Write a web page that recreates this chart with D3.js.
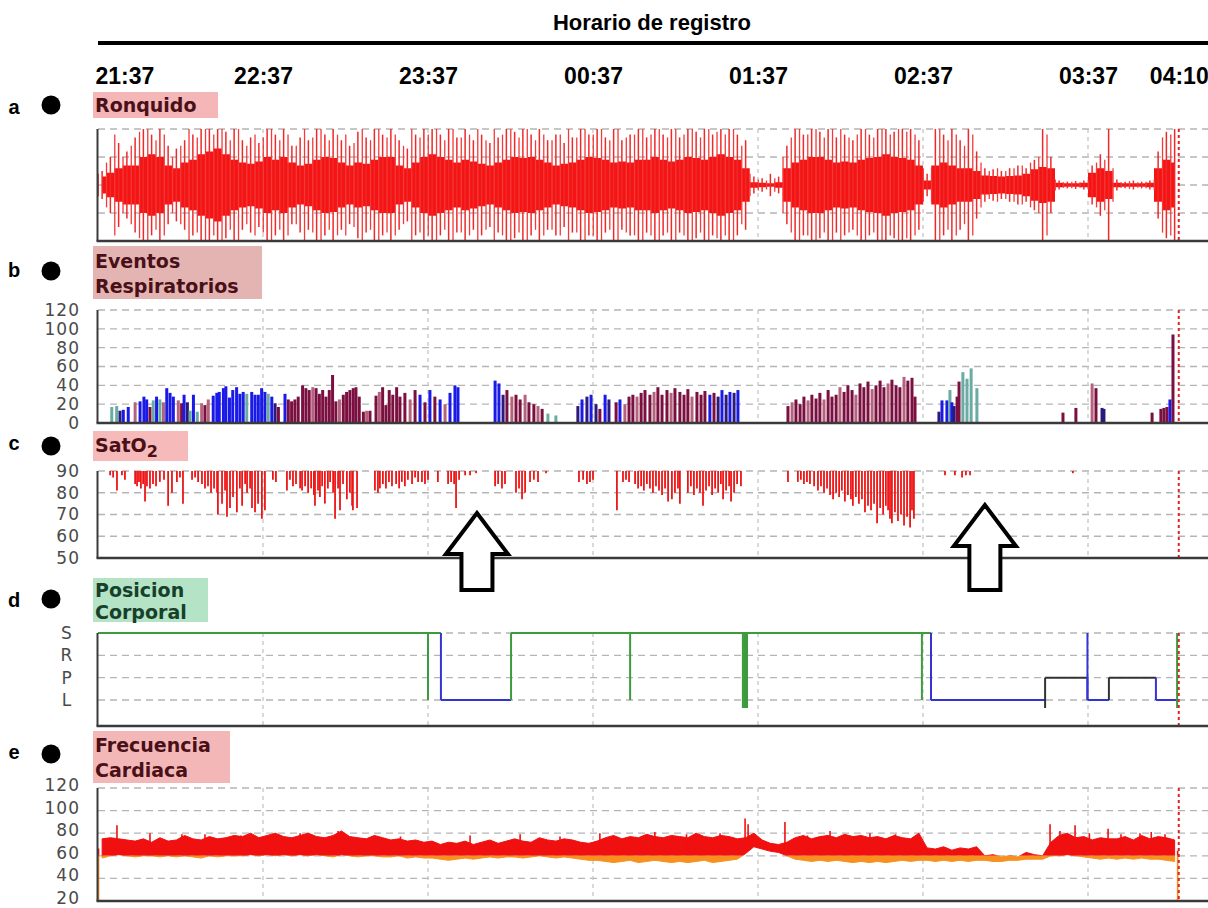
<!DOCTYPE html>
<html><head><meta charset="utf-8">
<script src="https://cdn.jsdelivr.net/npm/d3@7"></script>
<style>body{margin:0;background:#fff}svg{display:block}</style>
</head><body>
<svg width="1208" height="908"></svg>
<script>
// ---------------- DATA ----------------
const titleText = "Horario de registro";
const timeTicks = [0, 60, 120, 180, 240, 300, 360, 393];          // minutes since 21:37
const timeLabels = ["21:37","22:37","23:37","00:37","01:37","02:37","03:37","04:10"];
const gridTimes = [60, 120, 180, 240, 300, 360];
const endTime = 393;

// a) snoring envelope, 3-minute bins (relative amplitude)
const snoreCore = [0.15,0.22,0.3,0.35,0.35,0.5,0.55,0.5,0.35,0.3,
0.4,0.45,0.55,0.6,0.65,0.55,0.45,0.4,0.38,0.42,
0.5,0.45,0.5,0.4,0.35,0.38,0.45,0.5,0.48,0.4,
0.35,0.4,0.38,0.45,0.5,0.5,0.35,0.3,0.4,0.5,
0.55,0.5,0.45,0.4,0.45,0.42,0.38,0.35,0.4,0.45,
0.5,0.48,0.5,0.45,0.4,0.35,0.38,0.4,0.45,0.5,
0.48,0.45,0.4,0.42,0.4,0.45,0.45,0.5,0.45,0.42,
0.45,0.5,0.48,0.45,0.5,0.55,0.5,0.45,0.3,0.05,
0.04,0.03,0.05,0.3,0.4,0.45,0.5,0.5,0.45,0.4,
0.42,0.4,0.45,0.48,0.5,0.55,0.5,0.48,0.45,0.35,
0.08,0.35,0.4,0.35,0.3,0.3,0.25,0.17,0.16,0.15,
0.16,0.17,0.2,0.28,0.32,0.3,0.04,0.03,0.03,0.04,
0.22,0.3,0.25,0.04,0.03,0.03,0.03,0.04,0.3,0.45,
0.4];
// peak amplitude at each bin centre
const snorePeak = [0.25,0.5,0.75,0.6,0.85,1,0.9,1,0.7,0.65,
0.8,0.9,1,1,1,0.95,1,0.8,0.85,0.75,
1,0.9,1,0.7,0.85,0.8,1,0.9,1,0.8,
0.7,0.95,0.85,1,0.9,1,0.8,0.65,0.9,1,
1,0.9,1,0.85,1,0.8,0.9,0.75,0.85,1,
0.95,1,0.9,1,0.8,0.9,0.75,0.85,1,0.9,
1,0.85,1,0.8,0.9,1,0.85,1,0.9,1,
0.85,1,0.95,1,0.9,1,1,0.9,0.8,0.15,
0.12,0.2,0.15,0.7,1,0.9,1,0.95,1,0.85,
0.9,0.8,1,0.9,1,1,0.95,1,1,0.8,
0.2,1,0.9,1,0.8,1,0.6,0.3,0.28,0.25,
0.3,0.35,0.3,0.45,1,0.5,0.08,0.06,0.07,0.08,
0.35,0.55,1,0.1,0.06,0.08,0.06,0.08,0.6,0.95,
1];
// peak amplitude at each bin start
const snorePeak2 = [0.2,0.4,0.9,0.5,0.7,0.95,1,0.8,0.9,0.5,
0.7,1,0.85,1,0.9,1,0.8,1,0.7,0.9,
0.85,1,0.8,0.9,0.7,1,0.85,1,0.8,0.9,
0.9,0.75,1,0.8,1,0.85,0.9,0.7,1,0.85,
0.9,1,0.8,1,0.85,0.9,1,0.8,1,0.9,
1,0.85,1,0.8,0.9,0.8,0.9,1,0.85,1,
0.9,1,0.8,1,0.85,0.9,1,0.9,1,0.85,
1,0.9,1,0.85,1,0.95,0.9,1,0.7,0.2,
0.1,0.08,0.12,0.5,0.85,1,0.9,1,0.85,1,
1,0.85,0.9,1,0.85,1,0.9,1,0.95,0.9,
0.3,0.3,1,0.8,0.9,0.7,0.9,0.4,0.25,0.3,
0.25,0.3,0.35,0.4,0.5,0.9,0.1,0.05,0.06,0.05,
0.08,0.4,0.45,0.3,0.05,0.07,0.05,0.06,0.1,0.85,
0.9];

// b) respiratory events: time (min), height, type
const evTime = [5.0,6.8,8.0,9.2,11.0,13.5,15.3,16.7,17.7,18.9,20.1,21.3,22.5,23.8,25.0,26.2,27.4,29.2,30.4,31.3,32.5,33.5,34.7,36.1,37.7,38.9,40.1,41.9,43.2,44.1,45.6,46.5,47.8,49.0,50.4,51.6,52.8,54.1,55.9,57.1,58.3,59.5,60.7,61.9,63.2,64.4,65.6,68.0,69.2,70.4,71.6,72.8,74.4,75.6,76.8,78.1,79.3,80.5,81.7,82.9,84.1,85.3,86.5,87.8,89.2,90.4,91.6,92.8,93.8,95.0,96.5,97.7,98.9,101.1,102.3,103.5,104.7,105.9,107.2,108.6,
109.8,111.6,113.5,115.3,117.1,118.9,120.7,122.5,124.4,126.2,128.0,129.8,130.9,
144.4,145.8,147.3,148.7,150.5,152.0,153.5,155.3,156.7,158.5,160.0,161.5,163.6,166.5,
174.5,176.0,177.8,179.3,181.1,182.5,184.4,185.8,188.4,189.8,191.6,193.1,
194.5,196.0,197.5,198.9,200.7,202.2,203.6,205.1,206.9,208.4,209.8,211.6,213.1,214.5,216.0,217.8,219.3,220.7,
222.5,224.0,225.5,226.9,228.4,229.8,231.3,232.7,
250.9,252.4,253.8,255.3,256.7,258.2,259.6,261.1,262.5,264.0,265.5,266.9,268.4,269.8,271.3,272.7,274.2,275.6,277.1,278.5,280.0,281.5,282.9,284.4,285.8,287.3,288.7,290.2,291.6,293.1,294.5,296.0,297.1,
305.8,306.9,308.7,309.8,310.5,311.3,312.4,313.1,314.5,316.0,317.5,319.6,
350.9,355.6,361.5,362.9,365.1,365.8,383.3,386.5,387.6,388.7,389.8,390.9];
const evHeight = [17,18,13,14,17,22,23,28,25,17,24,28,25,22,37,32,28,24,21,30,22,13,30,12,21,19,25,29,32,33,37,39,27,35,38,31,33,31,33,30,30,37,33,31,28,21,17,31,25,23,25,28,40,37,35,38,37,31,35,28,35,51,23,25,30,33,35,37,38,28,12,13,13,29,33,38,19,35,30,38,
28,32,25,35,30,22,35,28,25,20,32,40,38,
45,42,30,35,28,30,25,30,22,20,18,15,10,8,
18,25,28,30,20,15,30,25,22,25,20,28,
30,28,32,35,30,33,38,30,35,32,37,33,30,36,28,33,30,34,
30,32,28,35,30,33,32,35,
18,22,25,20,28,24,30,26,32,25,35,28,30,38,33,40,35,30,42,38,44,36,40,45,38,42,46,40,38,49,45,48,28,
12,24,24,35,22,18,28,44,54,47,58,37,
11,16,42,37,16,15,11,15,16,17,25,94];
const evType = ["T","T","P","B","B","K","B","B","B","M","T","B","T","K","B","B","B","K","M","B","P","T","B","T","K","M","K","B","B","B","B","B","B","B","B","B","B","T","B","B","B","B","B","T","B","P","M","B","M","M","M","M","M","M","M","K","M","M","M","M","M","M","M","K","M","M","M","M","M","M","M","K","M","M","K","M","M","M","M","M",
"M","M","K","M","B","M","B","M","B","K","B","B","B",
"B","B","P","M","K","M","M","K","M","M","K","M","T","T",
"P","B","P","B","P","M","B","P","M","B","K","M",
"M","K","M","M","M","K","M","M","M","K","M","M","M","M","K","M","M","M",
"B","M","P","B","P","B","P","B",
"M","K","M","M","M","K","M","M","M","K","M","M","M","K","M","M","M","K","M","M","M","K","M","M","M","K","M","M","M","K","M","M","M",
"P","B","B","T","B","P","M","M","T","T","T","T",
"M","M","K","M","P","P","M","M","M","M","B","M"];
const evTicks = [0,20,40,60,80,100,120];

// c) SatO2 desaturation minima: time (min), minimum value (%)
const satTime = [4.4,5.5,6.9,8.7,9.8,
13.5,14.2,14.9,15.6,16.4,17.1,17.8,18.9,20.0,21.1,22.5,24.0,25.5,26.9,28.7,29.8,30.9,
34.2,35.3,36.4,37.8,38.9,40.0,41.1,42.2,43.3,43.6,45.1,46.2,46.9,48.0,49.1,50.5,51.6,52.4,53.5,54.2,55.3,56.0,57.1,58.2,59.6,60.7,
63.6,64.7,
68.7,69.8,70.9,72.0,73.5,74.2,75.3,76.4,77.5,78.5,78.9,80.0,80.7,81.5,82.5,83.6,84.4,85.5,86.2,87.3,88.0,89.1,90.5,91.6,92.4,92.7,94.2,
100.7,101.8,102.5,103.6,104.7,105.8,106.9,108.4,109.5,
110.5,111.6,112.7,114.2,115.3,116.4,117.8,118.9,120.0,
123.6,127.3,128.4,129.5,130.2,131.3,
133.5,135.3,137.5,
144.4,145.5,146.9,148.0,
152.0,153.1,154.2,155.3,157.1,158.5,160.0,162.9,
174.9,176.4,177.8,178.9,180.0,
188.7,190.9,192.0,193.1,
195.3,196.4,197.5,198.5,199.6,200.7,201.8,202.9,204.0,205.1,206.2,207.3,208.7,209.8,210.9,211.6,
214.5,215.6,216.7,217.8,218.9,220.0,221.1,222.2,223.3,224.4,225.5,226.5,227.3,228.4,229.5,230.2,231.3,232.4,233.8,
250.9,
254.5,255.6,256.7,257.8,258.9,260.4,261.8,262.9,264.0,265.1,266.2,267.3,268.4,269.5,270.5,271.6,272.7,273.8,274.5,275.6,276.7,277.8,278.9,280.0,281.1,282.2,283.3,284.4,285.5,286.5,287.3,288.0,288.7,289.8,290.9,292.0,293.1,294.2,295.3,296.0,296.7,
308.0,311.6,314.2,315.6,317.1,
354.5];
const satMin = [88,87,81,88,86,
84,83,85,82,84,76,83,82,84,83,85,86,74,80,85,87,75,
86,87,85,84,82,83,80,82,80,70,75,81,69,73,78,71,82,74,84,80,82,73,71,75,68,72,
86,85,
81,86,83,84,82,81,83,80,82,79,74,81,78,83,75,82,85,80,68,82,72,84,77,80,74,72,73,
81,80,82,84,82,85,83,84,82,
85,83,86,84,87,85,85,84,86,
85,84,85,84,73,86,
88,88,89,
83,84,82,84,
80,82,77,80,85,86,85,89,
85,86,84,85,86,
72,85,86,85,
84,82,83,81,84,82,80,83,81,79,82,76,77,80,82,75,
80,83,79,82,80,74,81,83,79,82,80,84,77,81,83,76,80,84,83,
85,
85,86,84,85,84,83,81,83,80,82,79,77,80,78,81,76,79,77,74,78,75,77,71,74,72,75,66,73,70,74,72,68,66,71,67,70,65,69,64,72,68,
88,88,87,88,88,
89];
const satTicks = [50,60,70,80,90];

// d) body position segments
const posLevels = ["S","R","P","L"];
const posStart = [0, 124.7, 150.2, 302.9, 344.4, 359.8, 367.6, 384.7];
const posEnd   = [124.7, 150.2, 302.9, 344.4, 359.8, 367.6, 384.7, 392.4];
const posState = ["S","L","S","L","P","L","P","L"];
const posStartLong = [false, false, false, false, true, false, false, false];
const posSpikeTime  = [120.0, 193.5, 234.5, 235.0, 235.5, 236.0, 299.6, 359.8, 392.4];
const posSpikeState = ["S","S","S","S","S","S","S","L","S"];
const posSpikeLong  = [false, false, true, true, true, true, false, false, true];

// e) heart rate, 3-minute bins (band high / band low) and isolated peaks
const hrHigh = [75,76,75,74,73,75,72,76,73,74,
78,75,74,77,75,76,78,77,80,76,
78,80,77,76,78,80,77,76,78,82,
77,76,75,78,76,74,75,73,74,72,
73,70,72,71,73,70,72,74,71,73,
75,73,72,76,74,73,75,74,72,71,
73,76,78,75,77,76,79,77,76,78,
77,76,80,77,76,78,77,75,76,80,
74,71,70,72,76,78,75,77,78,76,
79,77,78,76,77,75,78,76,75,80,
67,66,68,65,67,66,68,60,61,59,
60,59,63,61,60,72,78,80,76,77,
74,76,75,75,77,74,78,75,77,76,
74];
const hrLow = [58,60,61,60,59,60,60,59,60,59,
60,59,58,60,59,60,60,60,61,60,
61,60,61,60,61,60,61,60,59,61,
60,59,60,60,59,59,60,58,59,58,
58,57,56,57,58,57,58,59,58,59,
59,58,59,60,59,58,59,58,57,56,
56,55,54,55,56,54,55,56,55,54,
55,54,55,56,54,55,56,57,62,68,
66,64,63,60,57,56,55,56,55,56,
55,54,55,54,55,54,55,56,55,56,
56,55,56,55,56,55,56,56,55,55,
56,56,57,57,57,60,60,61,60,59,
58,57,58,57,58,57,58,57,57,56,
55];
const hrSpikeTime = [0.2,6.9,18.9,30.5,38.9,52.0,73.5,87.3,110.0,135.3,153.5,168.0,182.5,202.5,214.0,226.2,235.3,236.4,249.8,258.0,266.2,280.7,290.0,346.2,349.8,355.3,360.5,367.3,372.0,378.9,383.0,388.0,392.6];
const hrSpikeVal  = [20,87,80,79,79,78,80,82,77,78,79,77,80,81,79,80,93,88,90,78,82,80,79,88,82,87,80,84,79,80,81,79,20];
const hrTicks = [20,40,60,80,100,120];

// annotation arrows (time in minutes)
const arrowTimes = [137.8, 322.5];

// panel labels
const panelLetters = ["a","b","c","d","e"];

// ---------------- DRAWING ----------------
const svg = d3.select("svg");
const XR = 1208;
const x = d3.scaleLinear().domain([0, 393]).range([98, 1178.75]);
const FONT_B = '"Liberation Sans", Arial, sans-serif';
const FONT_V = '"DejaVu Sans", Verdana, sans-serif';

// header
svg.append("text").attr("x", 652).attr("y", 30).attr("text-anchor", "middle")
  .style("font", `bold 22px ${FONT_B}`).text(titleText);
svg.append("line").attr("x1", 98).attr("x2", XR).attr("y1", 43).attr("y2", 43)
  .attr("stroke", "#000").attr("stroke-width", 4);
const gT = svg.append("g").attr("transform", "translate(0,84)")
  .call(d3.axisTop(x).tickValues(timeTicks).tickFormat((d, i) => timeLabels[i]).tickSize(0).tickPadding(0));
gT.select(".domain").remove();
gT.selectAll("text").style("font", `bold 23px ${FONT_B}`).attr("fill", "#000");
gT.selectAll("text").filter((d, i) => i === 0).attr("text-anchor", "start").attr("x", -3);

// helpers
function grid(top, bottom, ys) {
  const g = svg.append("g");
  ys.forEach(y => g.append("line").attr("x1", 98).attr("x2", XR).attr("y1", y).attr("y2", y)
    .attr("stroke", "#b5b5b5").attr("stroke-width", 1.3).attr("stroke-dasharray", "7,5"));
  gridTimes.forEach(t => g.append("line").attr("x1", x(t)).attr("x2", x(t)).attr("y1", top).attr("y2", bottom)
    .attr("stroke", "#c6c6c6").attr("stroke-width", 1.3).attr("stroke-dasharray", "4,4"));
}
function frame(top, bottom) {
  svg.append("line").attr("x1", x(endTime)).attr("x2", x(endTime)).attr("y1", top).attr("y2", bottom)
    .attr("stroke", "#e42020").attr("stroke-width", 2).attr("stroke-dasharray", "3,3");
  svg.append("line").attr("x1", 97.5).attr("x2", 97.5).attr("y1", top).attr("y2", bottom)
    .attr("stroke", "#3a3a3a").attr("stroke-width", 2);
  svg.append("line").attr("x1", 96.5).attr("x2", XR).attr("y1", bottom).attr("y2", bottom)
    .attr("stroke", "#3a3a3a").attr("stroke-width", 2.6);
}
function yAxis(scale, ticks, xPos, anchor, dy) {
  const g = svg.append("g").attr("transform", `translate(${xPos},0)`)
    .call(d3.axisLeft(scale).tickValues(ticks).tickSize(0).tickPadding(0));
  g.select(".domain").remove();
  g.selectAll("text").style("font", `17px ${FONT_V}`).style("letter-spacing", "1px")
    .attr("fill", "#4a4a4a").attr("text-anchor", anchor).attr("x", 0);
  if (dy) g.selectAll("text").attr("dy", dy);
}
function label(xb, yb, w, h, bg, color, lines, baselines) {
  svg.append("rect").attr("x", xb).attr("y", yb).attr("width", w).attr("height", h).attr("fill", bg);
  lines.forEach((s, i) => svg.append("text").attr("x", xb + 2).attr("y", baselines[i])
    .style("font", `bold 19px ${FONT_V}`).attr("fill", color).text(s));
}

// letters and dots
const letterY = [107, 270, 443, 600, 752];
const dotY = [105, 271, 446, 599, 754];
panelLetters.forEach((l, i) => {
  svg.append("text").attr("x", 14).attr("y", letterY[i]).attr("dy", "0.35em").attr("text-anchor", "middle")
    .style("font", `bold 20px ${FONT_B}`).text(l);
  svg.append("circle").attr("cx", 51).attr("cy", dotY[i]).attr("r", 9.5).attr("fill", "#000");
});

// ---- panel a: Ronquido ----
const yA = d3.scaleLinear().domain([-1, 1]).range([241, 129]);
grid(129, 241, [129, 157, 185, 213]);
const gA = svg.append("g");
gA.append("path").datum(snoreCore)
  .attr("d", d3.area().curve(d3.curveStep).x((d, i) => x(i * 3 + 1.5)).y0(d => yA(-d)).y1(d => yA(d)))
  .attr("fill", "#f41414");
gA.selectAll("line.p1").data(snorePeak).join("line").attr("class", "p1")
  .attr("x1", (d, i) => x(i * 3 + 1.5)).attr("x2", (d, i) => x(i * 3 + 1.5))
  .attr("y1", d => yA(d)).attr("y2", d => yA(-d))
  .attr("stroke", "#f02828").attr("stroke-width", 1.5);
gA.selectAll("line.p2").data(snorePeak2).join("line").attr("class", "p2")
  .attr("x1", (d, i) => x(i * 3 + 0.1)).attr("x2", (d, i) => x(i * 3 + 0.1))
  .attr("y1", d => yA(d)).attr("y2", d => yA(-d))
  .attr("stroke", "#f23a3a").attr("stroke-width", 1.3);
frame(129, 241);
label(93, 92, 125, 26, "#f4b6b6", "#4a1018", ["Ronquido"], [112]);

// ---- panel b: Eventos Respiratorios ----
const yB = d3.scaleLinear().domain([0, 120]).range([423, 310]);
grid(310, 423, evTicks.slice(1).map(yB));
const evColor = {T: "#6aaba3", B: "#1a1ae8", P: "#2b1a7c", M: "#7b1040", K: "#b3637c"};
svg.append("g").selectAll("rect").data(evTime).join("rect")
  .attr("x", d => x(d) - 1.5).attr("width", 3)
  .attr("y", (d, i) => yB(evHeight[i])).attr("height", (d, i) => yB(0) - yB(evHeight[i]))
  .attr("fill", (d, i) => evColor[evType[i]]);
frame(310, 423);
yAxis(yB, evTicks, 80, "end");
label(93, 246, 169, 53, "#e4b4b2", "#4a1018", ["Eventos", "Respiratorios"], [268, 293]);

// ---- panel c: SatO2 ----
const yC = d3.scaleLinear().domain([50, 90]).range([558, 471]);
grid(471, 558, satTicks.slice(1).map(yC));
svg.append("g").selectAll("line").data(satTime).join("line")
  .attr("x1", d => x(d)).attr("x2", d => x(d))
  .attr("y1", yC(90)).attr("y2", (d, i) => yC(satMin[i]))
  .attr("stroke", "#ee1515").attr("stroke-width", 1.8);
frame(471, 558);
yAxis(yC, satTicks, 80, "end");
svg.append("rect").attr("x", 93).attr("y", 431).attr("width", 95).attr("height", 30).attr("fill", "#f6baba");
const satLbl = svg.append("text").attr("x", 95).attr("y", 452).style("font", `bold 19px ${FONT_V}`).attr("fill", "#4a1018");
satLbl.append("tspan").text("SatO");
satLbl.append("tspan").attr("dy", 5).style("font-size", "16px").text("2");

// arrows
const arrowTip = [513, 505];
arrowTimes.forEach((t, i) => {
  const cx = x(t), ty = arrowTip[i], hw = 31, sw = 15.5, hh = 41, by = 590;
  const pts = [[cx, ty], [cx + hw, ty + hh], [cx + sw, ty + hh], [cx + sw, by], [cx - sw, by], [cx - sw, ty + hh], [cx - hw, ty + hh]];
  svg.append("path").attr("d", d3.line()(pts) + "Z").attr("fill", "#fff")
    .attr("stroke", "#000").attr("stroke-width", 4).attr("stroke-linejoin", "miter");
});

// ---- panel d: Posicion Corporal ----
const yD = d3.scalePoint().domain(posLevels).range([633, 700]);
grid(633, 726, posLevels.map(yD));
const posColor = {S: "#3d9b3d", L: "#3434d4", P: "#333333", R: "#888888"};
const gD = svg.append("g");
posStart.forEach((t0, i) => {
  const c = posColor[posState[i]];
  gD.append("line").attr("x1", x(t0)).attr("x2", x(posEnd[i])).attr("y1", yD(posState[i])).attr("y2", yD(posState[i]))
    .attr("stroke", c).attr("stroke-width", 2);
  if (i > 0) gD.append("line").attr("x1", x(t0)).attr("x2", x(t0))
    .attr("y1", yD(posState[i - 1]) + (posStartLong[i] ? 8 : 0)).attr("y2", yD(posState[i]))
    .attr("stroke", c).attr("stroke-width", 2);
});
posSpikeTime.forEach((t, i) => {
  gD.append("line").attr("x1", x(t)).attr("x2", x(t)).attr("y1", yD("S")).attr("y2", yD("L") + (posSpikeLong[i] ? 8 : 0))
    .attr("stroke", posColor[posSpikeState[i]]).attr("stroke-width", 2);
});
frame(633, 726);
yAxis(yD, posLevels, 67, "middle");
label(93, 578, 115, 44, "#b4e3c6", "#17402a", ["Posicion", "Corporal"], [597, 619]);

// ---- panel e: Frecuencia Cardiaca ----
const yE = d3.scaleLinear().domain([20, 120]).range([901, 788]);
grid(788, 901, hrTicks.slice(1).map(yE));
const defs = svg.append("defs");
defs.append("clipPath").attr("id", "hrRed").append("rect")
  .attr("x", 90).attr("y", 780).attr("width", 1130).attr("height", yE(60) - 780);
defs.append("clipPath").attr("id", "hrOrg").append("rect")
  .attr("x", 90).attr("y", yE(60)).attr("width", 1130).attr("height", 905 - yE(60));
const areaE = d3.area().x((d, i) => x(i * 3 + 1.5)).y0((d, i) => yE(hrLow[i])).y1(d => yE(d));
[["hrRed", "#f01010"], ["hrOrg", "#f7901e"]].forEach(([id, col]) => {
  const g = svg.append("g").attr("clip-path", `url(#${id})`);
  g.append("path").datum(hrHigh).attr("d", areaE).attr("fill", col).attr("stroke", col).attr("stroke-width", 1);
  g.selectAll("line").data(hrSpikeTime).join("line")
    .attr("x1", d => x(d)).attr("x2", d => x(d))
    .attr("y1", d => { const b = Math.min(130, Math.floor(d / 3)); return yE((hrHigh[b] + hrLow[b]) / 2); })
    .attr("y2", (d, i) => yE(hrSpikeVal[i]))
    .attr("stroke", col).attr("stroke-width", 1.6);
});
frame(788, 901);
yAxis(yE, hrTicks, 80, "end", "0.15em");
label(93, 731, 137, 52, "#f4b7b7", "#4a1018", ["Frecuencia", "Cardiaca"], [752, 777]);
</script>
</body></html>
